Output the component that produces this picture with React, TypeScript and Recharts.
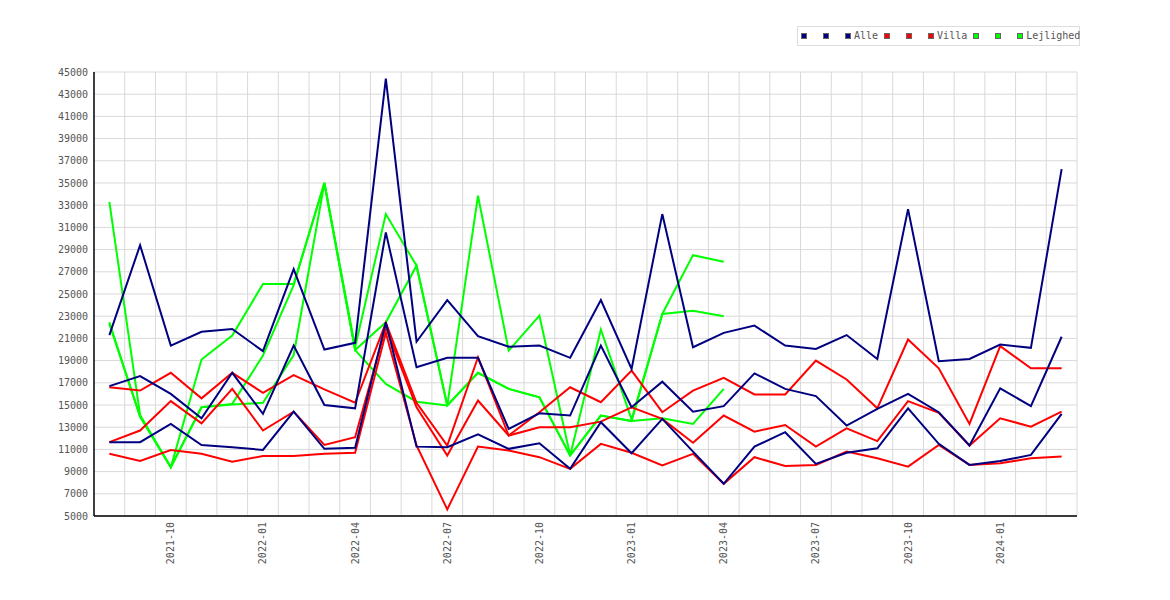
// Monthly price lines (Alle / Villa / Lejlighed), three lines per group
import { LineChart, Line, XAxis, YAxis, CartesianGrid, Legend } from 'recharts';

const MONO = '"DejaVu Sans Mono", monospace';

const months = [
  '2021-08', '2021-09', '2021-10', '2021-11', '2021-12', '2022-01', '2022-02', '2022-03',
  '2022-04', '2022-05', '2022-06', '2022-07', '2022-08', '2022-09', '2022-10', '2022-11',
  '2022-12', '2023-01', '2023-02', '2023-03', '2023-04', '2023-05', '2023-06', '2023-07',
  '2023-08', '2023-09', '2023-10', '2023-11', '2023-12', '2024-01', '2024-02', '2024-03',
];

const alleHigh = [
  21300, 29400, 20350, 21600, 21850, 19850, 27250, 20000, 20600, 44400, 20700, 24450, 21200, 20250, 20350, 19250,
  24450, 18250, 32200, 20200, 21500, 22150, 20350, 20050, 21300, 19150, 32650, 18950, 19150, 20450, 20150, 36250,
];
const alleMid = [
  16700, 17600, 16000, 13800, 17900, 14200, 20350, 15000, 14700, 30550, 18400, 19250, 19250, 12850, 14250, 14050,
  20350, 14800, 17100, 14400, 14900, 17850, 16450, 15800, 13150, 14650, 16000, 14350, 11350, 16500, 14900, 21150,
];
const alleLow = [
  11650, 11650, 13300, 11400, 11200, 10950, 14400, 11050, 11150, 22450, 11250, 11200, 12350, 11050, 11550, 9250,
  13450, 10650, 13750, 10800, 7900, 11250, 12550, 9700, 10700, 11100, 14700, 11500, 9600, 9950, 10500, 14200,
];

const villaHigh = [
  16600, 16300, 17900, 15600, 17900, 16100, 17700, 16400, 15200, 22400, 15200, 11350, 19300, 12250, 14350, 16600,
  15250, 18100, 14350, 16300, 17450, 15950, 15950, 19000, 17300, 14700, 20900, 18300, 13300, 20300, 18300, 18300,
];
const villaMid = [
  11650, 12700, 15350, 13350, 16450, 12700, 14400, 11400, 12100, 22000, 14800, 10450, 15400, 12250, 13000, 13000,
  13500, 14800, 13750, 11600, 14050, 12600, 13200, 11250, 12900, 11750, 15350, 14300, 11350, 13800, 13050, 14400,
];
const villaLow = [
  10600, 9950, 10950, 10600, 9900, 10400, 10400, 10600, 10700, 21500, 11350, 5600, 11250, 10900, 10300, 9250,
  11500, 10700, 9550, 10600, 7900, 10300, 9500, 9600, 10800, 10200, 9450, 11400, 9600, 9750, 10200, 10350,
];

const lejHigh = [
  33300, 14100, 9400, 19100, 21250, 25900, 25900, 35000, 20200, 32200, 27550, 14950, 33850, 19900, 23050, 10450,
  21800, 13700, 23200, 28500, 27900, null, null, null, null, null, null, null, null, null, null, null,
];
const lejMid = [
  22450, 13950, 9400, 14800, 15100, 19450, 25800, 35000, 19950, 22450, 27550, 14950, 17900, 16450, 15700, 10450,
  14050, 13550, 23200, 23500, 23000, null, null, null, null, null, null, null, null, null, null, null,
];
const lejLow = [
  22300, 13950, 9400, 14800, 15050, 15200, 19500, 35000, 19950, 16900, 15300, 14950, 17900, 16450, 15700, 10450,
  14050, 13550, 13800, 13300, 16450, null, null, null, null, null, null, null, null, null, null, null,
];

const yTicks = [5000, 7000, 9000, 11000, 13000, 15000, 17000, 19000, 21000, 23000, 25000,
  27000, 29000, 31000, 33000, 35000, 37000, 39000, 41000, 43000, 45000];

const groups = [
  { name: 'Alle', color: '#000080', keys: ['alleHigh', 'alleMid', 'alleLow'] },
  { name: 'Villa', color: '#ff0000', keys: ['villaHigh', 'villaMid', 'villaLow'] },
  { name: 'Lejlighed', color: '#00ff00', keys: ['lejHigh', 'lejMid', 'lejLow'] },
];

const data = months.map((month, i) => ({
  idx: i,
  month,
  alleHigh: alleHigh[i], alleMid: alleMid[i], alleLow: alleLow[i],
  villaHigh: villaHigh[i], villaMid: villaMid[i], villaLow: villaLow[i],
  lejHigh: lejHigh[i], lejMid: lejMid[i], lejLow: lejLow[i],
}));

// quarterly labels, grid lines between months
const tickIdx = months.map((m, i) => (/-(01|04|07|10)$/.test(m) ? i : -1)).filter((i) => i >= 0);
const boundaries = months.map((_, i) => i + 0.5);

function XTick({ x, y, payload }: any) {
  return (
    <g transform={`translate(${x},${y})`}>
      <text x={0} y={0} dy={3.5} textAnchor="end" transform="rotate(-90)"
        fill="#555" fontSize={10} fontFamily={MONO}>
        {months[payload.value]}
      </text>
    </g>
  );
}

function LegendBox() {
  return (
    <div style={{
      width: 278, height: 18, border: '1px solid #ddd', display: 'flex', alignItems: 'center',
      paddingLeft: 3, whiteSpace: 'nowrap', overflow: 'visible', fontFamily: MONO, fontSize: 10, color: '#555',
      boxSizing: 'content-box',
    }}>
      {groups.map((g) =>
        g.keys.map((k, j) => {
          const last = j === g.keys.length - 1;
          return (
            <span key={k} style={{ display: 'flex', alignItems: 'center', marginRight: last ? 6 : 16 }}>
              <span style={{ width: 4, height: 4, background: g.color, border: '1px solid #666', display: 'inline-block' }} />
              {last && <span style={{ marginLeft: 3, lineHeight: '10px' }}>{g.name}</span>}
            </span>
          );
        })
      )}
    </div>
  );
}

export default function App() {
  // draw order: green first, navy on top
  const drawOrder = [groups[2], groups[1], groups[0]];
  return (
    <div style={{ width: 1154, height: 584, position: 'relative' }}>
      <LineChart width={1154} height={584} data={data}
        margin={{ top: 64, right: 85, bottom: 0, left: 0 }}>
        <CartesianGrid stroke="#d9d9d9" verticalValues={boundaries} />
        <XAxis dataKey="idx" type="number" domain={[-0.5, 31.5]} ticks={tickIdx} interval={0}
          tickLine={false} tickSize={6} tickMargin={0} height={76}
          axisLine={{ stroke: '#000', strokeWidth: 1.5 }} tick={<XTick />} />
        <YAxis type="number" domain={[5000, 45000]} ticks={yTicks} interval={0} width={86}
          tickLine={false} tickSize={6} tickMargin={0}
          axisLine={{ stroke: '#000', strokeWidth: 1.5 }}
          tick={{ fill: '#555', fontSize: 10, fontFamily: MONO }} />
        <Legend layout="horizontal" verticalAlign="middle" align="center"
          wrapperStyle={{ top: 18, left: 789, width: 'auto', height: 'auto' }}
          content={() => <LegendBox />} />
        {drawOrder.map((g) =>
          g.keys.map((k) => (
            <Line key={k} dataKey={k} name={g.name} type="linear" stroke={g.color}
              strokeWidth={2} dot={false} activeDot={false} isAnimationActive={false} />
          ))
        )}
      </LineChart>
    </div>
  );
}
